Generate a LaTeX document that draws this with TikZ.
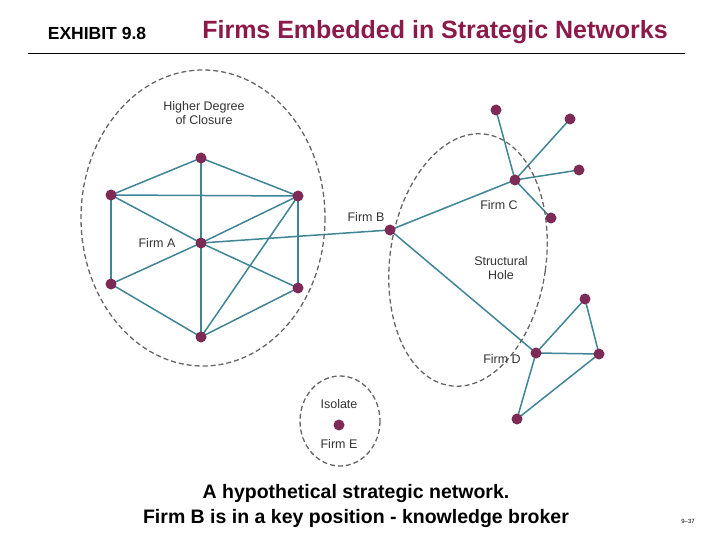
\documentclass[tikz,border=0pt]{standalone}
\usepackage{fontspec}
\setmainfont{Liberation Sans}
\usetikzlibrary{backgrounds}
\begin{document}
\begin{tikzpicture}[x=1pt,y=-1pt,
  dot/.style={circle,fill=dotc,inner sep=0pt,minimum size=11pt},
  ed/.style={draw=edgec,line width=1.5pt},
  ell/.style={draw=gray!80!black,dash pattern=on 5pt off 3pt,line width=1.3pt},
  lab/.style={font=\fontsize{12.5}{14}\selectfont,text=black!80,align=center}]
\definecolor{dotc}{HTML}{7E2A56}
\definecolor{edgec}{HTML}{3F8596}
\definecolor{titc}{HTML}{8B1A4A}
\useasboundingbox (0,0) rectangle (720,540);
\node[font=\bfseries\fontsize{17.5}{20}\selectfont] (ex) at (97,33) {EXHIBIT 9.8};
\node[font=\bfseries\fontsize{25}{29}\selectfont,text=titc] (ti) at (435,32) {Firms Embedded in Strategic Networks};
\draw[line width=0.8pt] (28,53) -- (685,53);
\draw[ell] (203,218) ellipse [x radius=122,y radius=148];
\draw[ell,rotate around={-8:(468,260)}] (468,260) ellipse [x radius=78,y radius=127];
\draw[ell] (340,421) ellipse [x radius=40,y radius=45];
\node[lab] (l1) at (204,113) {Higher Degree\\of Closure};
\node[lab] (la) at (157,243) {Firm A};
\node[lab] (lb) at (366,217) {Firm B};
\node[lab] (lc) at (499,205) {Firm C};
\node[lab] (lh) at (501,268) {Structural\\Hole};
\node[lab] (ld) at (502,359) {Firm D};
\node[lab] (li) at (339,404) {Isolate};
\node[lab] (le) at (339,444) {Firm E};
\node[dot] (t) at (201,158) {};
\node[dot] (ul) at (111,195) {};
\node[dot] (ur) at (298,196) {};
\node[dot] (A) at (201,243) {};
\node[dot] (ll) at (111,284) {};
\node[dot] (lr) at (298,288) {};
\node[dot] (bo) at (201,337) {};
\node[dot] (B) at (390,230) {};
\node[dot] (C) at (515,180) {};
\node[dot] (c1) at (496,110) {};
\node[dot] (c2) at (570,119) {};
\node[dot] (c3) at (579,170) {};
\node[dot] (c4) at (551,218) {};
\node[dot] (D) at (536,353) {};
\node[dot] (d1) at (585,299) {};
\node[dot] (d2) at (599,354) {};
\node[dot] (d3) at (517,419) {};
\node[dot] (E) at (339,425) {};
\begin{scope}[on background layer]
\foreach \a/\b in {t/ul,t/ur,t/A,ul/ur,ul/ll,ul/A,ur/A,ur/lr,ur/bo,A/ll,A/lr,A/bo,ll/bo,lr/bo,A/B,B/C,B/D,C/c1,C/c2,C/c3,C/c4,D/d1,D/d2,D/d3,d1/d2,d2/d3}
  \draw[ed] (\a.center) -- (\b.center);
\end{scope}
\node[font=\bfseries\fontsize{19.5}{25}\selectfont,align=center] (cap) at (356,506) {A hypothetical strategic network.\\Firm B is in a key position - knowledge broker};
\node[font=\fontsize{6}{7}\selectfont] (pg) at (688,521) {9–37};
\end{tikzpicture}
\end{document}
